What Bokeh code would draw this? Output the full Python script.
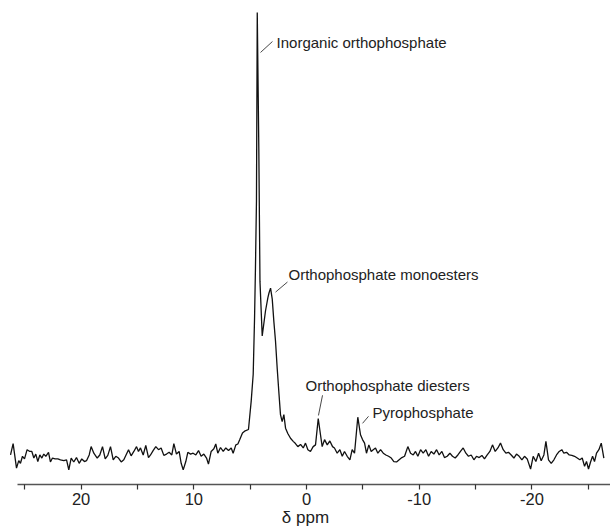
from bokeh.plotting import figure
from bokeh.models import Range1d, FixedTicker, Label, ColumnDataSource
from bokeh.embed import file_html
from bokeh.resources import INLINE

# chemical shift (ppm) and relative intensity
ppm = [26.26, 26.03, 25.73, 25.53, 25.38, 25.20, 25.02, 24.79, 24.55, 24.37, 24.19, 24.02,
       23.84, 23.66, 23.48, 23.31, 23.13, 22.89, 22.72, 22.54, 22.30, 22.06, 21.83, 21.53,
       21.29, 21.09, 20.88, 20.65, 20.41, 20.17, 19.94, 19.70, 19.52, 19.28, 19.11, 18.87,
       18.57, 18.34, 18.10, 17.86, 17.63, 17.39, 17.15, 16.92, 16.68, 16.44, 16.21, 15.97,
       15.79, 15.56, 15.32, 15.08, 14.91, 14.73, 14.49, 14.26, 14.02, 13.84, 13.61, 13.37,
       13.13, 12.90, 12.66, 12.42, 12.19, 11.95, 11.77, 11.54, 11.30, 11.12, 10.94, 10.71,
       10.53, 10.29, 10.06, 9.82, 9.58, 9.35, 9.11, 8.87, 8.70, 8.46, 8.22, 8.05, 7.87,
       7.63, 7.39, 7.16, 6.92, 6.68, 6.51, 6.27, 6.09, 5.92, 5.68, 5.44, 5.15,
       4.91, 4.73, 4.61, 4.53, 4.44, 4.37, 4.23, 4.13, 3.93, 3.64, 3.43, 3.33, 3.19, 3.04,
       2.90, 2.75, 2.60, 2.46, 2.31, 2.16, 2.01, 1.86, 1.66, 1.42, 1.18, 0.98, 0.77, 0.53,
       0.29, 0.09, -0.12, -0.35, -0.59, -0.80, -1.04, -1.24, -1.39, -1.60, -1.84, -2.07,
       -2.31, -2.48, -2.72, -2.96, -3.17, -3.37, -3.61, -3.85, -4.05, -4.26, -4.55, -4.79,
       -4.97, -5.15, -5.32, -5.53, -5.74, -5.92, -6.12, -6.33, -6.57, -6.81, -7.04, -7.28,
       -7.52, -7.75, -7.99, -8.22, -8.46, -8.70, -8.99, -9.23, -9.47, -9.67, -9.88, -10.12,
       -10.35, -10.59, -10.83, -11.06, -11.30, -11.54, -11.77, -12.01, -12.24, -12.48,
       -12.72, -12.95, -13.19, -13.43, -13.66, -13.90, -14.14, -14.37, -14.61, -14.85,
       -15.08, -15.32, -15.56, -15.79, -16.03, -16.27, -16.50, -16.74, -16.98, -17.21,
       -17.45, -17.69, -17.92, -18.16, -18.40, -18.63, -18.87, -19.11, -19.34, -19.58,
       -19.88, -20.11, -20.35, -20.59, -20.82, -21.06, -21.24, -21.47, -21.71, -21.95,
       -22.18, -22.42, -22.65, -22.83, -23.07, -23.31, -23.54, -23.78, -24.02, -24.25,
       -24.46, -24.67, -24.84, -25.02, -25.20, -25.38, -25.55, -25.73, -25.94, -26.15, -26.38]

intensity = [-0.8, 1.8, -3.8, -2.1, -2.7, -1.1, -1.7, 0.4, 0.0, 0.0, -1.5, -0.6,
             -2.3, -0.8, -1.5, -0.6, -1.1, -0.2, -2.4, -1.5, -1.7, -1.7, -1.9, -2.1,
             -1.9, -4.2, -1.5, -2.4, -1.4, -2.7, -1.7, -2.3, -2.1, -0.8, 1.1, -0.4,
             -1.5, -0.8, 1.1, -1.7, -0.9, 1.1, -1.9, -1.1, -1.5, -2.4, -1.9, -0.6,
             0.4, -1.0, 0.0, 1.1, 0.0, 0.8, -0.8, 1.4, -1.4, -0.8, 0.2, 1.1,
             0.4, 0.8, -0.9, -0.6, -0.2, -0.8, 1.8, -0.6, 0.0, -2.7, -4.2, -2.3,
             -0.2, -0.6, -0.4, -0.8, 0.2, -1.1, -0.6, -1.5, -2.9, 0.0, 0.6, 1.7, -0.4,
             0.9, 0.0, 0.8, 0.2, 0.8, -0.4, 1.5, 1.7, 2.7, 4.2, 4.7, 5.0,
             11.4, 17.6, 30.4, 41.8, 57.1, 100.0, 68.5, 38.8, 26.3, 32.0, 35.0, 36.1, 37.2, 34.7,
             29.7, 25.1, 18.9, 13.7, 8.4, 6.8, 8.4, 5.3, 4.1, 3.0, 2.3, 1.8, 1.1, 1.6,
             0.8, 1.9, 0.4, 0.0, 1.1, 1.5, 7.5, 3.8, 1.1, 2.7, 1.5, 2.4,
             1.1, 0.8, -0.4, 0.4, -1.1, 0.0, -1.1, -1.9, 0.4, -0.4, 7.8, 3.8,
             2.7, 1.9, -0.4, 1.5, 0.0, 0.4, 0.8, -0.4, 0.4, -0.4, -0.8, -1.1,
             -1.5, -2.3, -2.4, -1.9, -1.4, -1.1, 1.1, -0.4, -0.8, 0.0, -1.1, 0.4,
             -0.4, 0.4, -1.1, 0.0, -0.6, 0.4, -0.8, 0.0, -1.4, -1.1,
             -0.4, -1.1, -1.5, -0.8, 0.0, 0.8, -0.4, -1.1, -0.8, -1.9,
             -1.1, -1.4, -0.9, -1.7, -0.8, 0.0, 1.5, 0.0, 0.8, 1.9,
             0.4, -0.4, -0.2, -0.8, -1.5, -0.6, -1.1, -1.9, -1.1, -1.7,
             -4.0, -1.1, -2.3, -0.4, -2.1, -0.8, 2.3, -1.9, -2.7, -1.9,
             -0.8, 0.0, 0.4, -0.4, -0.2, -0.8, -0.9, -1.1, -1.5, -1.9,
             -1.5, -3.4, -2.3, -4.0, -2.4, -1.1, -2.3, -0.4, 0.4, 1.9, -1.5]

major_ticks = [20, 10, 0, -10, -20]
minor_ticks = [25, 15, 5, -5, -15, -25]
tick_labels = {20: "20", 10: "10", 0: "0", -10: "-10", -20: "-20"}

annotations = ["Inorganic orthophosphate", "Orthophosphate monoesters",
               "Orthophosphate diesters", "Pyrophosphate"]

FONT = "Liberation Sans"

p = figure(width=610, height=529, output_backend="svg", toolbar_location=None,
           x_range=Range1d(27.15, -26.97), y_range=Range1d(-7.53, 102.74),
           min_border_left=0, min_border_right=0, min_border_top=0, min_border_bottom=0)
p.outline_line_color = None
p.background_fill_color = "white"
p.border_fill_color = "white"
p.grid.visible = False
p.yaxis.visible = False

p.line(ppm, intensity, line_color="#111111", line_width=1.3)

ax = p.xaxis[0]
ax.ticker = FixedTicker(ticks=major_ticks, minor_ticks=minor_ticks)
ax.major_label_overrides = tick_labels
ax.bounds = (25.6, -27.0)
ax.axis_line_color = "#555555"
ax.axis_line_width = 1.5
ax.major_tick_line_color = "#333333"
ax.minor_tick_line_color = "#333333"
ax.major_tick_line_width = 1.2
ax.minor_tick_line_width = 1.2
ax.major_tick_in = 0
ax.major_tick_out = 5
ax.minor_tick_in = 0
ax.minor_tick_out = 5
ax.major_label_text_font = FONT
ax.major_label_text_font_size = "16.5px"
ax.major_label_text_color = "#222222"
ax.major_label_standoff = 3
ax.axis_label = "δ ppm"
ax.axis_label_text_font = FONT
ax.axis_label_text_font_size = "17px"
ax.axis_label_text_font_style = "normal"
ax.axis_label_text_color = "#222222"
ax.axis_label_standoff = 0

label_pos = [(2.66, 93.2), (1.60, 40.4), (0.09, 15.1), (-5.86, 8.9)]
leaders = [((4.08, 90.9), (3.02, 93.4)), ((2.75, 36.3), (1.69, 38.6)),
           ((-1.06, 8.2), (-1.42, 12.8)), ((-4.97, 6.4), (-5.50, 8.0))]

for txt, (lx, ly) in zip(annotations, label_pos):
    p.add_layout(Label(x=lx, y=ly, text=txt, text_font=FONT, text_font_size="15px",
                       text_color="#222222", text_baseline="middle", text_align="left"))

seg = ColumnDataSource(dict(x0=[a[0][0] for a in leaders], y0=[a[0][1] for a in leaders],
                            x1=[a[1][0] for a in leaders], y1=[a[1][1] for a in leaders]))
p.segment("x0", "y0", "x1", "y1", source=seg, line_color="#333333", line_width=0.9)

open("out.html", "w").write(file_html(p, INLINE))
